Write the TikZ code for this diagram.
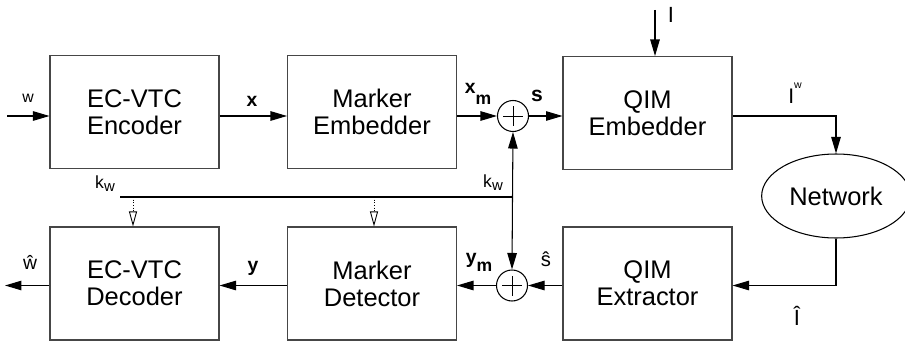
\documentclass[tikz,border=0pt]{standalone}
\usepackage{fontspec}
\setmainfont{Liberation Sans}
\usepackage{tikz}
\usetikzlibrary{arrows.meta,shapes.geometric}
\definecolor{boxgray}{RGB}{70,70,70}
% index set lower than the base letter
\newcommand{\lowidx}[2]{\raisebox{-#1}{#2}}
\tikzset{
  blockbox/.style={draw=boxgray, line width=0.6pt, minimum width=3.38cm, minimum height=2.26cm,
    align=center, font=\fontsize{14.5}{15.4}\selectfont},
  sumnode/.style={draw, circle, line width=0.6pt, minimum size=0.62cm, inner sep=0pt,
    path picture={
      \draw[line width=0.4pt] ([xshift=-0.2cm]path picture bounding box.center) -- ([xshift=0.2cm]path picture bounding box.center);
      \draw[line width=0.4pt] ([yshift=-0.2cm]path picture bounding box.center) -- ([yshift=0.2cm]path picture bounding box.center);}},
  sig/.style={line width=0.6pt, -{Triangle[length=0.33cm, width=0.19cm]}},
  keyarrow/.style={line width=0.5pt, densely dotted, -{Triangle[open, length=0.3cm, width=0.16cm]}},
  siglabel/.style={font=\fontsize{11}{11}\selectfont\bfseries, inner sep=0pt},
  plainlabel/.style={inner sep=0pt}
}
\begin{document}
\begin{tikzpicture}[x=0.02cm, y=-0.02cm]
      \useasboundingbox (0,0) rectangle (905,341);
      % upper row: embedding chain
      \node[blockbox] (enc)  at (134.5,112) {EC-VTC\\Encoder};
      \node[blockbox] (memb) at (372,112) {Marker\\Embedder};
      \node[sumnode]  (add1) at (513,116) {};
      \node[blockbox] (qemb) at (647.5,113) {QIM\\Embedder};
      \node[draw, ellipse, line width=0.6pt, minimum width=2.7cm, minimum height=1.68cm,
            font=\fontsize{14.5}{16}\selectfont] (net) at (836,196) {Network};
      % lower row: extraction chain
      \node[blockbox] (qext) at (647.5,283.5) {QIM\\Extractor};
      \node[sumnode]  (add2) at (512,285.5) {};
      \node[blockbox] (mdet) at (372,283.5) {Marker\\Detector};
      \node[blockbox] (dec)  at (134.5,283.5) {EC-VTC\\Decoder};
      % free ends
      \coordinate (win)  at (7,116);
      \coordinate (wout) at (5,285.5);
      \coordinate (iin)  at (655,10);
      \coordinate (kwl)  at (120,197);
      \coordinate (kwj)  at (512.5,197);
      \coordinate (kwd)  at (133,197);
      \coordinate (kwm)  at (374,197);
      % signal flow
      \draw[sig] (win) -- (win -| enc.west);
      \draw[sig] (enc.east |- add1) -- (memb.west |- add1);
      \draw[sig] (memb.east |- add1) -- (add1.west);
      \draw[sig] (add1.east) -- (qemb.west |- add1);
      \draw[sig] (iin) -- (iin |- qemb.north);
      \draw[sig] (qemb.east |- add1) -| (net.north);
      \draw[sig] (net.south) |- (qext.east |- add2);
      \draw[sig] (qext.west |- add2) -- (add2.east);
      \draw[sig] (add2.west) -- (mdet.east |- add2);
      \draw[sig] (mdet.west |- add2) -- (dec.east |- add2);
      \draw[sig] (dec.west |- add2) -- (wout);
      % key
      \draw[line width=0.6pt] (kwl) -- (kwj);
      \draw[sig] (kwj) -- (add1.south);
      \draw[sig] (kwj) -- (add2.north);
      \draw[keyarrow] (kwd) -- (kwd |- dec.north);
      \draw[keyarrow] (kwm) -- (kwm |- mdet.north);
      % labels
      \node[plainlabel, font=\fontsize{9}{9}\selectfont] (lw) at (28,98) {w};
      \node[siglabel] (lx) at (252,101) {x};
      \node[siglabel] (lxm) at (478,94) {x\lowidx{6.5pt}{\fontsize{10}{10}\selectfont m}};
      \node[siglabel, font=\fontsize{12}{12}\selectfont\bfseries] (ls) at (537,96) {s};
      \node[plainlabel, font=\fontsize{12.5}{12.5}\selectfont] (li) at (671,15) {I};
      \node[plainlabel, font=\fontsize{12}{12}\selectfont] (liw) at (795,93) {I\raisebox{1.3ex}{\fontsize{6}{6}\selectfont w}};
      \node[plainlabel, font=\fontsize{10}{10}\selectfont] (lkw1) at (105,184) {k\lowidx{1.7pt}{\fontsize{8.5}{8.5}\selectfont w}};
      \node[plainlabel, font=\fontsize{10}{10}\selectfont] (lkw2) at (493,183) {k\lowidx{1.7pt}{\fontsize{8.5}{8.5}\selectfont w}};
      \node[plainlabel, font=\fontsize{11}{11}\selectfont] (lwh) at (30,262) {ŵ};
      \node[siglabel] (ly) at (253,268) {y};
      \node[siglabel] (lym) at (479,262) {y\lowidx{4.5pt}{\fontsize{10}{10}\selectfont m}};
      \node[plainlabel, font=\fontsize{11.5}{11.5}\selectfont] (lsh) at (546,259) {ŝ};
      \node[plainlabel, font=\fontsize{12.5}{12.5}\selectfont] (lih) at (797,316) {Î};
\end{tikzpicture}
\end{document}
